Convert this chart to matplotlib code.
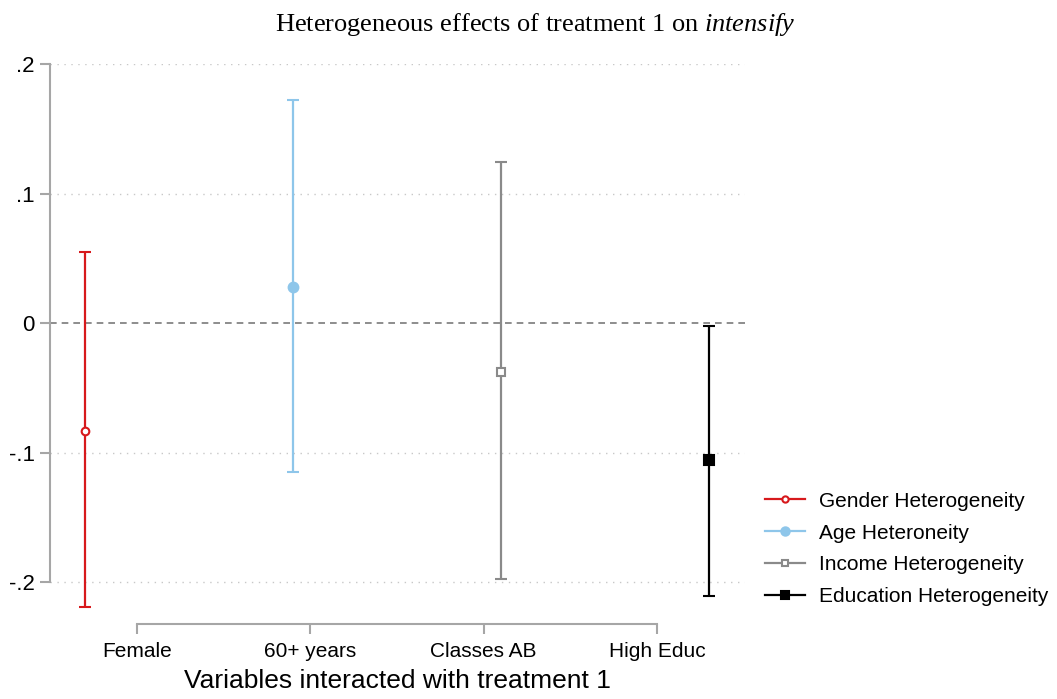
import numpy as np
import matplotlib.pyplot as plt
from matplotlib.lines import Line2D

plt.rcParams['font.family'] = ['Liberation Sans', 'DejaVu Sans']
plt.rcParams['mathtext.fontset'] = 'custom'
plt.rcParams['mathtext.rm'] = 'Liberation Serif'
plt.rcParams['mathtext.it'] = 'Liberation Serif:italic'

# data
series = ["Gender Heterogeneity", "Age Heteroneity",
          "Income Heterogeneity", "Education Heterogeneity"]
tick_names = ["Female", "60+ years", "Classes AB", "High Educ"]
coef = [-0.083, 0.028, -0.038, -0.106]
ci_lo = [-0.219, -0.115, -0.198, -0.211]
ci_hi = [0.055, 0.172, 0.124, -0.002]
yticks = [-0.2, -0.1, 0.0, 0.1, 0.2]
ytick_labels = ["-.2", "-.1", "0", ".1", ".2"]

colors = ["#d7191c", "#8ec6ea", "#8a8a8a", "#000000"]
markers = ["o", "o", "s", "s"]
msizes = [5.5, 7, 5.5, 7]
faces = ["white", "#8ec6ea", "white", "#000000"]

fig = plt.figure(figsize=(10.57, 6.99), dpi=100)
ax = fig.add_axes([50/1057, 1-624/699, 695/1057, (624-64)/699])

xs = np.arange(len(coef))
handles = []
for i in range(len(coef)):
    ax.errorbar(xs[i], coef[i],
                yerr=[[coef[i]-ci_lo[i]], [ci_hi[i]-coef[i]]],
                color=colors[i], marker=markers[i], ms=msizes[i],
                mfc=faces[i], mec=colors[i], mew=1.5,
                elinewidth=1.6, capsize=4.5, capthick=1.6, zorder=3)
    handles.append(Line2D([0], [0], color=colors[i], lw=1.6,
                          marker=markers[i], ms=msizes[i] - 1,
                          mfc=faces[i], mec=colors[i], mew=1.5,
                          label=series[i]))

ax.axhline(0, color="#7a7a7a", ls=(0, (4, 3)), lw=1.2, zorder=2)
for y in yticks:
    if y != 0:
        ax.axhline(y, color="#c8c8c8", ls=(0, (1, 4)), lw=1.0, zorder=1)

ax.set_xlim(-35/208, 660/208)
ax.set_ylim(-0.2324, 0.2)

tick_pos = 0.25 + np.arange(len(tick_names)) * 2.5 / 3
ax.set_xticks(tick_pos)
ax.set_xticklabels(tick_names, fontsize=15)
ax.set_yticks(yticks)
ax.set_yticklabels(ytick_labels, fontsize=16)

for s in ["top", "right"]:
    ax.spines[s].set_visible(False)
ax.spines["left"].set_bounds(-0.2, 0.2)
ax.spines["bottom"].set_bounds(tick_pos[0], tick_pos[-1])
for s in ["left", "bottom"]:
    ax.spines[s].set_color("#a6a6a6")
    ax.spines[s].set_linewidth(1.5)
ax.tick_params(axis="both", color="#a6a6a6", width=1.5, length=7, pad=4)
ax.tick_params(axis="x", pad=6)

ax.set_xlabel("Variables interacted with treatment 1", fontsize=19, labelpad=6)

fig.suptitle(r"Heterogeneous effects of treatment 1 on $\it{intensify}$",
             fontsize=19, family="Liberation Serif", x=535/1057,
             y=1-25/699, va="center")

fig.legend(handles=handles, loc="center left",
           bbox_to_anchor=(765/1057, 1-549/699), bbox_transform=fig.transFigure,
           frameon=False, fontsize=15, handlelength=1.9, handletextpad=0.7,
           labelspacing=0.62, borderpad=0, borderaxespad=0)

fig.savefig("out.png", dpi=100)
